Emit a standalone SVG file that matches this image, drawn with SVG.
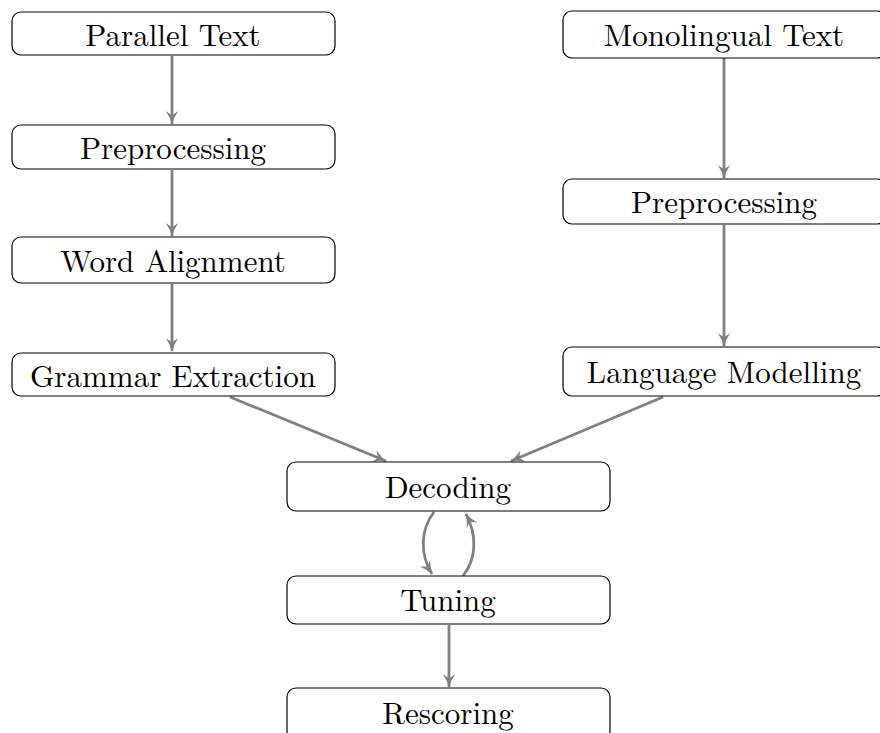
<svg xmlns="http://www.w3.org/2000/svg" width="880" height="733" viewBox="0 0 880 733">
  <style>
    .box { fill: #ffffff; stroke: #000000; stroke-width: 1.2; }
    .lbl { font-family: "Latin Modern Roman", "Liberation Serif", serif; font-size: 31px; fill: #000000; text-anchor: middle; dominant-baseline: central; }
    .edge { fill: none; stroke: #808080; stroke-width: 2.8; marker-end: url(#head); }
  </style>
  <defs>
    <marker id="head" viewBox="0 0 10 10" refX="9.5" refY="5" markerWidth="4.8" markerHeight="4.8" orient="auto" markerUnits="strokeWidth">
      <path d="M0,0.5 Q5,3.8 10,5 Q5,6.2 0,9.5 L3,5 Z" fill="#808080"/>
    </marker>
  </defs>
  <rect width="880" height="733" fill="#ffffff"/>

  <g id="connectors">
    <line class="edge" x1="172" y1="56" x2="172" y2="124"/>
    <line class="edge" x1="172" y1="170" x2="172" y2="236"/>
    <line class="edge" x1="172" y1="284" x2="172" y2="351"/>
    <line class="edge" x1="724" y1="58" x2="724" y2="178"/>
    <line class="edge" x1="724" y1="225" x2="724" y2="346"/>
    <line class="edge" x1="230" y1="397" x2="386" y2="461"/>
    <line class="edge" x1="663" y1="397" x2="511" y2="461"/>
    <path class="edge" d="M434,512 C420,530 420,555 432,574"/>
    <path class="edge" d="M463,576 C477,558 477,535 466,514"/>
    <line class="edge" x1="449" y1="625" x2="449" y2="687"/>
  </g>

  <g id="parallel-text">
    <rect class="box" x="12" y="12" width="323" height="43" rx="9"/>
    <text class="lbl" x="173" y="33">Parallel Text</text>
  </g>
  <g id="preprocessing-left">
    <rect class="box" x="12" y="125" width="323" height="44" rx="9"/>
    <text class="lbl" x="173" y="146">Preprocessing</text>
  </g>
  <g id="word-alignment">
    <rect class="box" x="12" y="237" width="323" height="46" rx="9"/>
    <text class="lbl" x="173" y="259">Word Alignment</text>
  </g>
  <g id="grammar-extraction">
    <rect class="box" x="12" y="353" width="323" height="43" rx="9"/>
    <text class="lbl" x="173" y="374">Grammar Extraction</text>
  </g>

  <g id="monolingual-text">
    <rect class="box" x="563" y="11" width="323" height="47" rx="9"/>
    <text class="lbl" x="724" y="33">Monolingual Text</text>
  </g>
  <g id="preprocessing-right">
    <rect class="box" x="563" y="179" width="323" height="45" rx="9"/>
    <text class="lbl" x="724" y="200">Preprocessing</text>
  </g>
  <g id="language-modelling">
    <rect class="box" x="563" y="347" width="323" height="49" rx="9"/>
    <text class="lbl" x="724" y="370">Language Modelling</text>
  </g>

  <g id="decoding">
    <rect class="box" x="287" y="462" width="323" height="49" rx="9"/>
    <text class="lbl" x="448" y="485">Decoding</text>
  </g>
  <g id="tuning">
    <rect class="box" x="287" y="576" width="323" height="48" rx="9"/>
    <text class="lbl" x="448" y="598">Tuning</text>
  </g>
  <g id="rescoring">
    <rect class="box" x="287" y="688" width="323" height="52" rx="9"/>
    <text class="lbl" x="448" y="711">Rescoring</text>
  </g>
</svg>
